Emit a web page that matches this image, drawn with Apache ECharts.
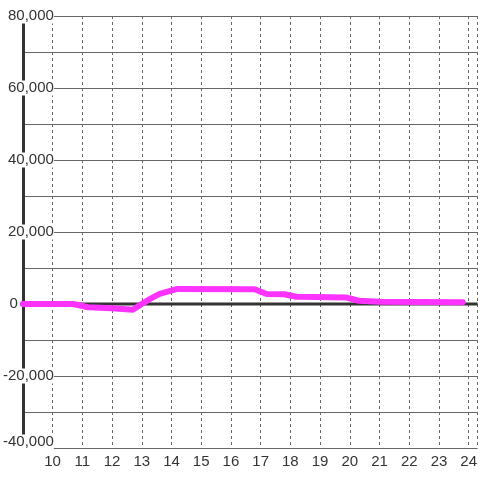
<!DOCTYPE html>
<html>
<head>
<meta charset="utf-8">
<script src="https://cdn.jsdelivr.net/npm/echarts@6/dist/echarts.min.js"></script>
<style>html,body{margin:0;padding:0;background:#fff}#c{width:480px;height:480px}</style>
</head>
<body>
<div id="c"></div>
<script>
var hours = [9.0, 10.7, 11.2, 12.0, 12.7, 13.0, 13.3, 13.6, 14.2, 16.8, 17.2, 17.8, 18.2, 19.9, 20.3, 21.0, 23.8];
var values = [0, 0, -900, -1200, -1600, 0, 1500, 2800, 4200, 4100, 2800, 2700, 2000, 1800, 900, 600, 500];
var xTickLabels = ['10','11','12','13','14','15','16','17','18','19','20','21','22','23','24'];
var yTickLabels = ['-40,000','-20,000','0','20,000','40,000','60,000','80,000'];

var xMin = 9, xMax = 24.3;
var chart = echarts.init(document.getElementById('c'));
function fmtY(v) {
  if (v % 20000 !== 0) return '';
  var idx = (v + 40000) / 20000;
  var t = yTickLabels[idx];
  if (v === 0) return '{z|' + t + '}';
  if (v === -40000) return '{m|' + t + '}';
  return '{a|' + t + '}';
}
chart.setOption({
  animation: false,
  grid: {left: 21, right: 0, top: 16, bottom: 32, containLabel: false},
  xAxis: {
    type: 'value', min: xMin, max: xMax, interval: 1,
    axisLine: {show: false}, axisTick: {show: false},
    splitLine: {show: true, lineStyle: {color: '#666', type: [3, 3], width: 1}},
    axisLabel: {
      showMinLabel: false, showMaxLabel: false,
      margin: 6, fontSize: 15, fontFamily: 'Liberation Sans', color: '#333',
      formatter: function (v) {
        var i = Math.round(v) - 10;
        if (Math.abs(v - Math.round(v)) > 1e-6 || i < 0 || i >= xTickLabels.length) return '';
        return xTickLabels[i];
      }
    }
  },
  yAxis: {
    type: 'value', min: -40000, max: 80000, interval: 10000,
    axisLine: {show: true, lineStyle: {color: '#333', width: 3}},
    axisTick: {show: false},
    splitLine: {show: true, lineStyle: {color: '#666', width: 1}},
    axisLabel: {
      margin: -31, fontSize: 15, fontFamily: 'Liberation Sans', color: '#333',
      formatter: fmtY,
      rich: {
        a: {fontSize: 15, fontFamily: 'Liberation Sans', color: '#333', backgroundColor: '#fff', lineHeight: 16},
        z: {fontSize: 15, fontFamily: 'Liberation Sans', color: '#333', padding: [0, 36, 0, 0]},
        m: {fontSize: 15, fontFamily: 'Liberation Sans', color: '#333', backgroundColor: '#fff', lineHeight: 16, padding: [0, 0, 12, 0]}
      }
    }
  },
  series: [
    {type: 'line', data: [[xMin, 0], [xMax, 0]], symbol: 'none', silent: true, z: 1,
     lineStyle: {color: '#333', width: 3}},
    {type: 'line', data: hours.map(function (h, i) { return [h, values[i]]; }),
     symbol: 'none', z: 3, lineStyle: {color: '#ff33ff', width: 6, cap: 'round', join: 'round'}}
  ]
});
</script>
</body>
</html>
